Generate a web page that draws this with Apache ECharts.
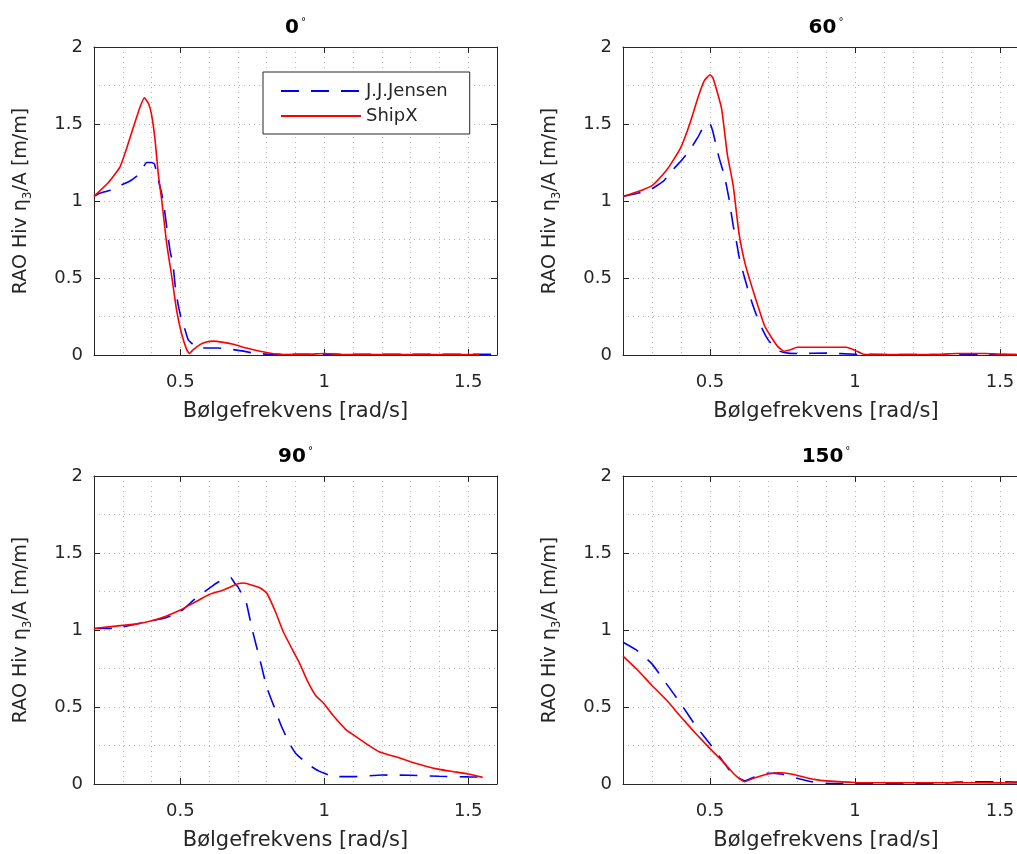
<!DOCTYPE html>
<html>
<head>
<meta charset="utf-8">
<script src="https://cdn.jsdelivr.net/npm/echarts@6/dist/echarts.min.js"></script>
<style>html,body{margin:0;padding:0;background:#fff}#c{width:1017px;height:854px}</style>
</head>
<body>
<div id="c"></div>
<script>
// ---- data ----
const panelTitles = ['0', '60', '90', '150'];
const seriesNames = ['J.J.Jensen', 'ShipX'];
const xTickValues = [0.5, 1, 1.5];

const jensen0X = [0.2,0.22,0.256,0.29,0.325,0.36,0.383,0.4,0.41,0.423,0.435,0.443,0.452,0.464,0.475,0.482,0.493,0.504,0.516,0.527,0.545,0.568,0.63,0.684,0.72,0.753,0.8,0.9,1.2,1.58];
const jensen0Y = [1.03,1.05,1.07,1.1,1.13,1.18,1.25,1.25,1.24,1.14,1.05,0.97,0.84,0.68,0.58,0.45,0.32,0.23,0.165,0.1,0.067,0.045,0.045,0.035,0.025,0.013,0.006,0.005,0.005,0.005];
const shipx0X = [0.2,0.25,0.29,0.313,0.337,0.36,0.375,0.39,0.4,0.412,0.423,0.435,0.452,0.47,0.487,0.504,0.522,0.531,0.545,0.568,0.59,0.615,0.65,0.684,0.73,0.777,0.823,0.86,0.95,1.0,1.05,1.2,1.4,1.54];
const shipx0Y = [1.03,1.12,1.22,1.34,1.48,1.61,1.67,1.63,1.56,1.4,1.18,1.01,0.73,0.51,0.29,0.14,0.035,0.01,0.035,0.067,0.085,0.09,0.082,0.07,0.045,0.024,0.008,0.003,0.005,0.01,0.005,0.003,0.003,0.003];

const jensen60X = [0.2,0.25,0.3,0.34,0.37,0.4,0.43,0.46,0.485,0.5,0.51,0.52,0.53,0.55,0.565,0.58,0.59,0.6,0.615,0.63,0.645,0.66,0.68,0.7,0.72,0.74,0.77,0.8,0.9,1.0,1.1,1.6];
const jensen60Y = [1.03,1.05,1.08,1.13,1.2,1.26,1.33,1.42,1.5,1.5,1.45,1.37,1.29,1.16,1.02,0.84,0.75,0.64,0.53,0.43,0.34,0.26,0.17,0.1,0.056,0.025,0.012,0.01,0.012,0.005,0.003,0.003];
const shipx60X = [0.2,0.25,0.3,0.35,0.375,0.4,0.43,0.46,0.48,0.5,0.51,0.52,0.54,0.56,0.58,0.6,0.62,0.64,0.665,0.688,0.71,0.733,0.756,0.78,0.8,0.9,0.97,1.0,1.03,1.1,1.3,1.35,1.45,1.5,1.6];
const shipx60Y = [1.03,1.06,1.1,1.2,1.27,1.35,1.5,1.68,1.78,1.82,1.8,1.74,1.6,1.3,1.1,0.79,0.6,0.47,0.32,0.19,0.12,0.056,0.024,0.035,0.05,0.05,0.05,0.03,0.005,0.003,0.005,0.01,0.01,0.005,0.003];

const jensen90X = [0.2,0.25,0.3,0.35,0.4,0.45,0.5,0.55,0.6,0.63,0.66,0.675,0.69,0.7,0.72,0.73,0.75,0.78,0.8,0.83,0.85,0.88,0.9,0.93,0.95,0.98,1.0,1.02,1.05,1.1,1.2,1.3,1.4,1.5,1.55];
const jensen90Y = [1.01,1.01,1.02,1.04,1.06,1.08,1.12,1.2,1.27,1.31,1.335,1.34,1.3,1.28,1.21,1.17,1.0,0.78,0.63,0.48,0.38,0.26,0.2,0.15,0.12,0.085,0.07,0.055,0.048,0.048,0.058,0.057,0.05,0.046,0.045];
const shipx90X = [0.2,0.3,0.35,0.4,0.45,0.5,0.55,0.6,0.65,0.7,0.72,0.75,0.78,0.8,0.83,0.857,0.89,0.915,0.94,0.97,1.0,1.03,1.077,1.1,1.147,1.19,1.26,1.3,1.35,1.4,1.45,1.5,1.55];
const shipx90Y = [1.01,1.03,1.04,1.06,1.09,1.13,1.18,1.23,1.26,1.3,1.305,1.29,1.27,1.24,1.12,0.99,0.87,0.78,0.675,0.575,0.52,0.446,0.35,0.32,0.26,0.21,0.17,0.145,0.117,0.095,0.08,0.065,0.043];

const jensen150X = [0.2,0.25,0.3,0.35,0.4,0.45,0.5,0.52,0.55,0.58,0.6,0.62,0.65,0.7,0.75,0.8,0.85,0.9,1.0,1.2,1.3,1.35,1.5,1.6];
const jensen150Y = [0.92,0.865,0.78,0.65,0.52,0.38,0.26,0.21,0.134,0.058,0.037,0.02,0.043,0.07,0.063,0.037,0.015,0.005,0.003,0.004,0.005,0.012,0.015,0.01];
const shipx150X = [0.2,0.25,0.3,0.35,0.4,0.45,0.5,0.55,0.58,0.6,0.62,0.65,0.7,0.74,0.78,0.82,0.86,0.9,1.0,1.2,1.4,1.6];
const shipx150Y = [0.83,0.74,0.64,0.545,0.435,0.33,0.23,0.134,0.07,0.037,0.015,0.037,0.065,0.073,0.065,0.047,0.03,0.02,0.01,0.008,0.008,0.006];

// ---- build ----
const zip = (xs, ys) => xs.map((x, i) => [x, ys[i]]);
const panels = [
  [zip(jensen0X, jensen0Y), zip(shipx0X, shipx0Y)],
  [zip(jensen60X, jensen60Y), zip(shipx60X, shipx60Y)],
  [zip(jensen90X, jensen90Y), zip(shipx90X, shipx90Y)],
  [zip(jensen150X, jensen150Y), zip(shipx150X, shipx150Y)]
];

const FONT = 'DejaVu Sans, Liberation Sans, sans-serif';
const TXT = '#262626';
const AX = '#262626';
const dotted = { color: '#b4b4b4', width: 1, type: [1, 4] };

const grids = [
  { left: 94, top: 47, right: 520, bottom: 499 },
  { left: 623, top: 47, right: -12, bottom: 499 },
  { left: 94, top: 476, right: 520, bottom: 70 },
  { left: 623, top: 476, right: -12, bottom: 70 }
];

const xAxes = [], yAxes = [], series = [];
grids.forEach((g, gi) => {
  const xb = xAxes.length;
  xAxes.push({
    type: 'value', gridIndex: gi, position: 'bottom', min: 0.2, max: 1.6, interval: 0.1,
    axisLine: { show: true, onZero: false, lineStyle: { color: AX, width: 1 } },
    axisTick: { show: false },
    axisLabel: {
      show: true, margin: 18, color: TXT, fontSize: 18, fontFamily: FONT,
      showMinLabel: true, showMaxLabel: true, hideOverlap: false,
      formatter: v => (Math.abs(v * 2 - Math.round(v * 2)) < 1e-6 ? String(+v.toFixed(1)) : '')
    },
    splitLine: { show: true, lineStyle: dotted },
    name: 'Bølgefrekvens [rad/s]', nameLocation: 'middle', nameGap: 46,
    nameTextStyle: { color: TXT, fontSize: 21, fontFamily: FONT }
  });
  xAxes.push({
    type: 'value', gridIndex: gi, position: 'bottom', min: 0.2, max: 1.6,
    axisLine: { show: false, onZero: false },
    axisTick: { show: true, inside: true, length: 6, customValues: xTickValues, lineStyle: { color: AX } },
    axisLabel: { show: false }, splitLine: { show: false }
  });
  xAxes.push({
    type: 'value', gridIndex: gi, position: 'top', min: 0.2, max: 1.6,
    axisLine: { show: true, onZero: false, lineStyle: { color: AX, width: 1 } },
    axisTick: { show: true, inside: true, length: 6, customValues: xTickValues, lineStyle: { color: AX } },
    axisLabel: { show: false }, splitLine: { show: false },
    name: panelTitles[gi] + '{d|°}', nameLocation: 'middle', nameGap: 8,
    nameTextStyle: {
      color: '#000', fontSize: 20, fontWeight: 'bold', fontFamily: FONT, lineHeight: 22,
      rich: { d: { fontSize: 10, fontWeight: 'normal', color: '#000', verticalAlign: 'top', lineHeight: 22, fontFamily: FONT, padding: [0, 0, 0, 2] } }
    }
  });
  const yb = yAxes.length;
  yAxes.push({
    type: 'value', gridIndex: gi, position: 'left', min: 0, max: 2, interval: 0.5,
    axisLine: { show: true, onZero: false, lineStyle: { color: AX, width: 1 } },
    axisTick: { show: true, inside: true, length: 6, lineStyle: { color: AX } },
    axisLabel: { show: true, margin: 11, color: TXT, fontSize: 18, fontFamily: FONT },
    splitLine: { show: true, lineStyle: dotted },
    minorTick: { show: false, splitNumber: 2 },
    minorSplitLine: { show: true, lineStyle: dotted },
    name: 'RAO Hiv η{s|3}/A [m/m]', nameLocation: 'middle', nameGap: 60,
    nameTextStyle: {
      color: TXT, fontSize: 19, fontFamily: FONT, lineHeight: 26, verticalAlign: 'bottom',
      rich: { s: { fontSize: 12, color: TXT, verticalAlign: 'bottom', lineHeight: 12, fontFamily: FONT } }
    }
  });
  yAxes.push({
    type: 'value', gridIndex: gi, position: 'right', min: 0, max: 2, interval: 0.5,
    axisLine: { show: true, onZero: false, lineStyle: { color: AX, width: 1 } },
    axisTick: { show: true, inside: true, length: 6, lineStyle: { color: AX } },
    axisLabel: { show: false }, splitLine: { show: false }
  });
  series.push({
    name: seriesNames[0], type: 'line', xAxisIndex: xb, yAxisIndex: yb,
    data: panels[gi][0], symbol: 'none', showSymbol: false, smooth: 0.15,
    lineStyle: { color: '#0000ff', width: 1.6, type: [18, 12] }, itemStyle: { color: '#0000ff' },
    z: 3, silent: true, animation: false
  });
  series.push({
    name: seriesNames[1], type: 'line', xAxisIndex: xb, yAxisIndex: yb,
    data: panels[gi][1], symbol: 'none', showSymbol: false, smooth: 0.15,
    lineStyle: { color: '#ff0000', width: 1.6, type: 'solid' }, itemStyle: { color: '#ff0000' },
    z: 4, silent: true, animation: false
  });
});

const chart = echarts.init(document.getElementById('c'), null, { renderer: 'canvas' });
chart.setOption({
  backgroundColor: '#ffffff',
  animation: false,
  textStyle: { fontFamily: FONT },
  grid: grids.map(g => Object.assign({ containLabel: false, outerBoundsMode: 'none' }, g)),
  xAxis: xAxes,
  yAxis: yAxes,
  legend: {
    data: seriesNames, orient: 'vertical', left: 263, top: 72,
    itemWidth: 80, itemHeight: 12, itemGap: 7,
    padding: [10, 22, 9, 17],
    borderColor: '#262626', borderWidth: 1, backgroundColor: '#ffffff',
    itemStyle: { opacity: 0 },
    textStyle: { color: TXT, fontSize: 18, fontFamily: FONT },
    selectedMode: false
  },
  series: series
});
</script>
</body>
</html>
